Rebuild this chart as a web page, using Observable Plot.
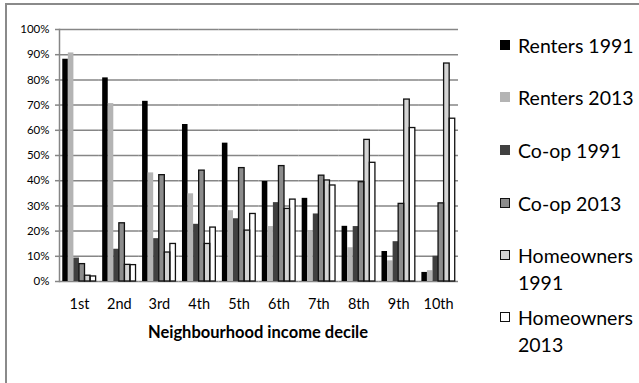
<!DOCTYPE html>
<html>
<head>
<meta charset="utf-8">
<script src="https://cdn.jsdelivr.net/npm/d3@7"></script>
<script src="https://cdn.jsdelivr.net/npm/@observablehq/plot@0.6"></script>
<style>
  html, body { margin: 0; padding: 0; background: #fff; }
  #wrap { position: relative; width: 639px; height: 383px; overflow: hidden; font-family: Lato, "Open Sans", sans-serif; }
  #border { position: absolute; left: 5px; top: 3px; width: 700px; height: 400px; border-left: 2px solid #8a8a8a; border-top: 2px solid #8a8a8a; }
  #chart { position: absolute; left: 0; top: 0; }
  #xtitle { position: absolute; left: 58px; width: 400px; top: 322px; text-align: center; font-weight: bold; font-size: 16.5px; color: #000; }
  .leg { position: absolute; left: 500px; font-size: 19.5px; line-height: 27px; color: #000; }
  .sw { position: absolute; left: 0; width: 10px; height: 10px; box-sizing: border-box; }
  .lt { position: absolute; left: 18px; top: 0; white-space: nowrap; }
</style>
</head>
<body>
<div id="wrap">
  <div id="border"></div>
  <div id="chart"></div>
  <div id="xtitle"></div>
  <div id="legend"></div>
</div>
<script>
const deciles = ["1st", "2nd", "3rd", "4th", "5th", "6th", "7th", "8th", "9th", "10th"];
const seriesNames = ["Renters 1991", "Renters 2013", "Co-op 1991", "Co-op 2013", "Homeowners 1991", "Homeowners 2013"];
const renters1991 = [88.2, 80.8, 71.5, 62.3, 54.9, 39.7, 33.0, 21.9, 11.9, 3.6];
const renters2013 = [90.7, 70.6, 43.1, 34.8, 28.1, 21.8, 20.2, 13.4, 8.2, 4.3];
const coop1991 = [9.3, 12.8, 17.0, 22.7, 24.9, 31.3, 26.8, 21.8, 15.8, 10.0];
const coop2013 = [6.9, 23.1, 42.2, 44.0, 45.0, 45.8, 42.0, 39.4, 30.8, 31.0];
const home1991 = [2.3, 6.6, 11.5, 14.9, 20.2, 28.8, 40.1, 56.2, 72.2, 86.5];
const home2013 = [2.0, 6.5, 14.9, 21.4, 26.8, 32.5, 38.1, 47.1, 60.9, 64.6];
const yTicks = [0, 10, 20, 30, 40, 50, 60, 70, 80, 90, 100];
const xTitle = "Neighbourhood income decile";

const seriesColors = ["#000000", "#b4b4b4", "#404040", "#8c8c8c", "#d4d4d4", "#ffffff"];
const seriesOutlined = [false, false, false, true, true, true];

const allValues = [renters1991, renters2013, coop1991, coop2013, home1991, home2013];
const data = [];
deciles.forEach((d, i) => {
  seriesNames.forEach((s, j) => {
    data.push({decile: d, series: s, value: allValues[j][i], outlined: seriesOutlined[j]});
  });
});

const chart = Plot.plot({
  width: 470,
  height: 320,
  marginLeft: 59,
  marginRight: 12,
  marginTop: 29,
  marginBottom: 39,
  style: {fontFamily: "Lato, 'Open Sans', sans-serif", background: "transparent"},
  fx: {domain: deciles, padding: 0, round: false, label: null},
  x: {domain: seriesNames, paddingInner: 0, paddingOuter: 0.59, round: false, axis: null},
  y: {domain: [0, 100], label: null},
  color: {domain: seriesNames, range: seriesColors},
  marks: [
    Plot.gridY(yTicks, {stroke: "#868686", strokeOpacity: 1, strokeWidth: 1.5}),
    Plot.axisY(yTicks, {tickSize: 4, tickPadding: 6, stroke: "#868686", strokeWidth: 1.5, tickFormat: d => d + "%", fontSize: 11.5, fill: "#000", label: null}),
    Plot.axisFx({anchor: "bottom", tickSize: 0, tickPadding: 17, fontSize: 14.5, fill: "#000", label: null}),
    Plot.barY(data, {fx: "decile", x: "series", y: "value", fill: "series"}),
    Plot.barY(data.filter(d => d.outlined), {fx: "decile", x: "series", y: "value", fill: "none", stroke: "#111", strokeWidth: 1.3}),
    Plot.frame({anchor: "left", facet: "super", stroke: "#868686", strokeWidth: 1.5})
  ]
});
document.getElementById("chart").appendChild(chart);
document.getElementById("xtitle").textContent = xTitle;

const legendRows = [
  {lines: ["Renters 1991"], top: 32},
  {lines: ["Renters 2013"], top: 84},
  {lines: ["Co-op 1991"], top: 137},
  {lines: ["Co-op 2013"], top: 190},
  {lines: ["Homeowners", "1991"], top: 242},
  {lines: ["Homeowners", "2013"], top: 304}
];
const legend = document.getElementById("legend");
legendRows.forEach((row, j) => {
  const item = document.createElement("div");
  item.className = "leg";
  item.style.top = row.top + "px";
  const sw = document.createElement("div");
  sw.className = "sw";
  sw.style.top = "8px";
  sw.style.background = seriesColors[j];
  if (seriesOutlined[j]) sw.style.border = "1.3px solid #111";
  const t = document.createElement("div");
  t.className = "lt";
  t.innerHTML = row.lines.join("<br>");
  item.appendChild(sw);
  item.appendChild(t);
  legend.appendChild(item);
});
</script>
</body>
</html>
